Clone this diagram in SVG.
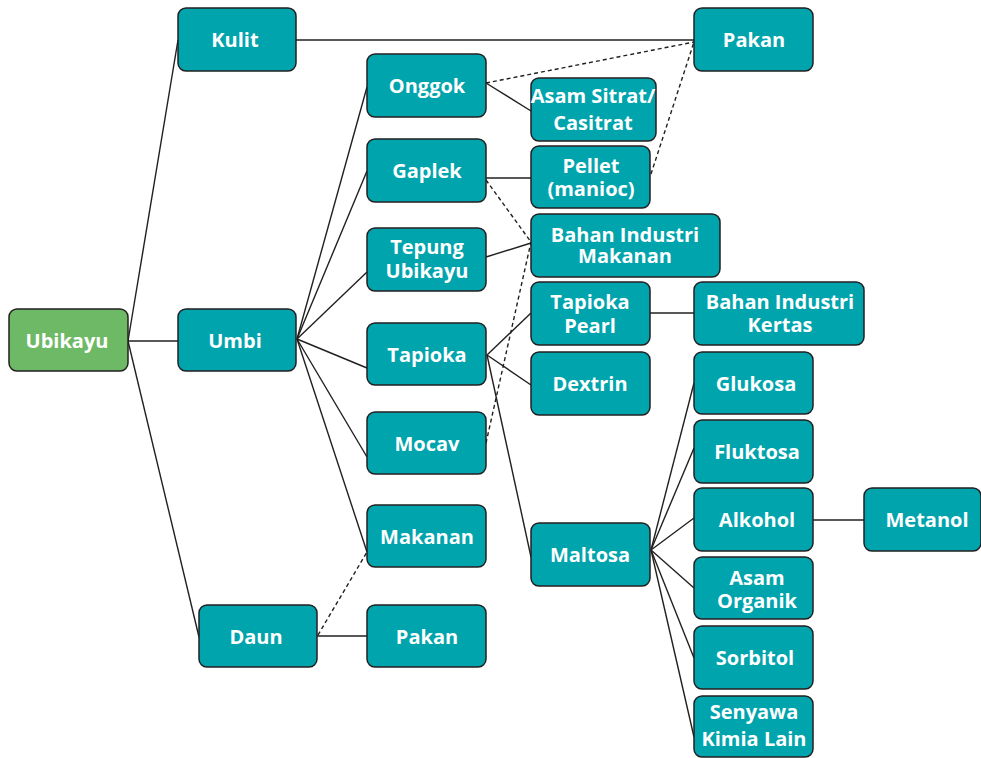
<svg xmlns="http://www.w3.org/2000/svg" width="981" height="758" viewBox="0 0 981 758">
<style>
.n rect{fill:#00A4AD;stroke:#231F20;stroke-width:1.5}
.g rect{fill:#6DB966}
text{font-family:"Open Sans","Liberation Sans",sans-serif;font-weight:700;font-size:20px;fill:#fff;text-anchor:middle}
.c line{stroke:#231F20;stroke-width:1.4;fill:none}
.c .d{stroke-dasharray:4 3}
</style>
<rect width="981" height="758" fill="#fff"/>
<g class="c" id="connectors">
<line x1="128" y1="341" x2="178" y2="40"/>
<line x1="128" y1="341" x2="178" y2="341"/>
<line x1="128" y1="341" x2="199" y2="637"/>
<line x1="296" y1="40" x2="694" y2="40"/>
<line x1="297" y1="339" x2="367" y2="87"/>
<line x1="297" y1="339" x2="367" y2="171"/>
<line x1="297" y1="339" x2="367" y2="272"/>
<line x1="297" y1="339" x2="367" y2="368"/>
<line x1="297" y1="339" x2="367" y2="457"/>
<line x1="297" y1="339" x2="367" y2="552"/>
<line x1="317" y1="636" x2="367" y2="636"/>
<line class="d" x1="318" y1="635" x2="367" y2="552"/>
<line class="d" x1="486" y1="83" x2="694" y2="42"/>
<line x1="486" y1="83" x2="531" y2="111"/>
<line x1="486" y1="178" x2="531" y2="178"/>
<line class="d" x1="651" y1="174" x2="694" y2="42"/>
<line class="d" x1="486" y1="180" x2="531" y2="242"/>
<line x1="486" y1="257" x2="531" y2="243"/>
<line class="d" x1="486" y1="443" x2="531" y2="242"/>
<line x1="487" y1="355" x2="531" y2="313"/>
<line x1="487" y1="355" x2="531" y2="385"/>
<line x1="487" y1="355" x2="531" y2="557"/>
<line x1="650" y1="313" x2="694" y2="313"/>
<line x1="651" y1="550" x2="694" y2="383"/>
<line x1="651" y1="550" x2="694" y2="448"/>
<line x1="651" y1="550" x2="694" y2="518"/>
<line x1="651" y1="550" x2="694" y2="588"/>
<line x1="651" y1="550" x2="694" y2="658"/>
<line x1="651" y1="550" x2="694" y2="737"/>
<line x1="813" y1="520" x2="864" y2="520"/>
</g>
<g id="ubikayu" class="n g"><rect x="9" y="309" width="119" height="62" rx="8"/><text x="67" y="348">Ubikayu</text></g>
<g id="kulit" class="n"><rect x="178" y="8" width="118" height="63" rx="8"/><text x="235" y="47">Kulit</text></g>
<g id="umbi" class="n"><rect x="178" y="309" width="118" height="62" rx="8"/><text x="235" y="348">Umbi</text></g>
<g id="daun" class="n"><rect x="199" y="605" width="118" height="62" rx="8"/><text x="256" y="644">Daun</text></g>
<g id="pakan1" class="n"><rect x="694" y="8" width="119" height="63" rx="8"/><text x="754" y="47">Pakan</text></g>
<g id="onggok" class="n"><rect x="367" y="54" width="119" height="63" rx="8"/><text x="427" y="93">Onggok</text></g>
<g id="gaplek" class="n"><rect x="367" y="139" width="119" height="63" rx="8"/><text x="427" y="178">Gaplek</text></g>
<g id="tepung" class="n"><rect x="367" y="228" width="119" height="63" rx="8"/><text x="427" y="254">Tepung</text><text x="427" y="278">Ubikayu</text></g>
<g id="tapioka" class="n"><rect x="367" y="323" width="119" height="62" rx="8"/><text x="427" y="362">Tapioka</text></g>
<g id="mocav" class="n"><rect x="367" y="412" width="119" height="62" rx="8"/><text x="427" y="451">Mocav</text></g>
<g id="makanan" class="n"><rect x="367" y="505" width="119" height="62" rx="8"/><text x="427" y="544">Makanan</text></g>
<g id="pakan2" class="n"><rect x="367" y="605" width="119" height="62" rx="8"/><text x="427" y="644">Pakan</text></g>
<g id="asamsitrat" class="n"><rect x="531" y="78" width="125" height="63" rx="8"/><text x="593" y="103">Asam Sitrat/</text><text x="593" y="130">Casitrat</text></g>
<g id="pellet" class="n"><rect x="531" y="146" width="119" height="62" rx="8"/><text x="591" y="173">Pellet</text><text x="591" y="196">(manioc)</text></g>
<g id="bim" class="n"><rect x="531" y="214" width="189" height="63" rx="8"/><text x="625" y="242">Bahan Industri</text><text x="625" y="263">Makanan</text></g>
<g id="tapiokapearl" class="n"><rect x="531" y="282" width="119" height="63" rx="8"/><text x="590" y="309">Tapioka</text><text x="590" y="333">Pearl</text></g>
<g id="dextrin" class="n"><rect x="531" y="352" width="119" height="63" rx="8"/><text x="590" y="391">Dextrin</text></g>
<g id="maltosa" class="n"><rect x="531" y="523" width="119" height="63" rx="8"/><text x="590" y="562">Maltosa</text></g>
<g id="bik" class="n"><rect x="694" y="282" width="170" height="63" rx="8"/><text x="780" y="309">Bahan Industri</text><text x="780" y="332">Kertas</text></g>
<g id="glukosa" class="n"><rect x="694" y="352" width="119" height="62" rx="8"/><text x="756" y="391">Glukosa</text></g>
<g id="fluktosa" class="n"><rect x="694" y="420" width="119" height="63" rx="8"/><text x="757" y="459">Fluktosa</text></g>
<g id="alkohol" class="n"><rect x="694" y="488" width="119" height="63" rx="8"/><text x="757" y="527">Alkohol</text></g>
<g id="asamorganik" class="n"><rect x="694" y="557" width="119" height="62" rx="8"/><text x="757" y="585">Asam</text><text x="757" y="608">Organik</text></g>
<g id="sorbitol" class="n"><rect x="694" y="626" width="119" height="63" rx="8"/><text x="755" y="665">Sorbitol</text></g>
<g id="senyawa" class="n"><rect x="694" y="696" width="119" height="61" rx="8"/><text x="754" y="719">Senyawa</text><text x="754" y="746">Kimia Lain</text></g>
<g id="metanol" class="n"><rect x="864" y="488" width="117" height="63" rx="8"/><text x="927" y="527">Metanol</text></g>
</svg>
